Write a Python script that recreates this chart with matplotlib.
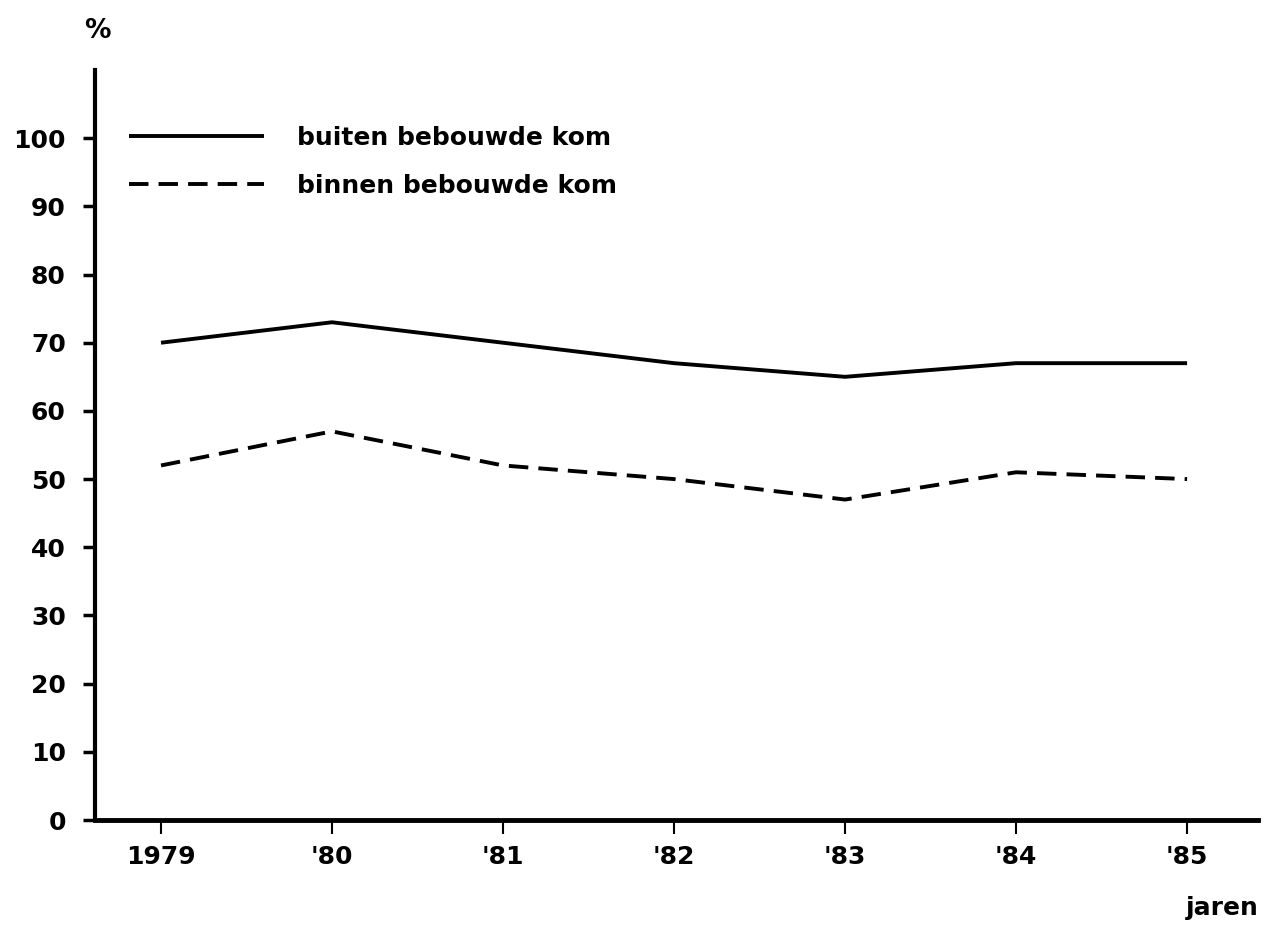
import matplotlib.pyplot as plt
import numpy as np

plt.rcParams['font.family'] = ['DejaVu Sans']

jaren = ['1979', "'80", "'81", "'82", "'83", "'84", "'85"]
buiten = [70, 73, 70, 67, 65, 67, 67]
binnen = [52, 57, 52, 50, 47, 51, 50]

x = np.arange(len(jaren))

fig = plt.figure(figsize=(12.75, 9.42), dpi=100)
ax = fig.add_axes([0.0745, 0.1295, 0.9122, 0.7962])

ax.plot(x, buiten, color='black', lw=2.8, solid_capstyle='butt',
        label='buiten bebouwde kom')
ax.plot(x, binnen, color='black', lw=2.8, dashes=(5, 2.6),
        label='binnen bebouwde kom')

ax.set_xlim(-0.386, 6.415)
ax.set_ylim(0, 110)
ax.set_xticks(x)
ax.set_xticklabels(jaren)
ax.set_yticks(np.arange(0, 101, 10))

for s in ['top', 'right']:
    ax.spines[s].set_visible(False)
ax.spines['left'].set_linewidth(3)
ax.spines['bottom'].set_linewidth(3.5)

ax.tick_params(axis='y', direction='out', length=9, width=2.5, pad=12,
               labelsize=18)
ax.tick_params(axis='x', direction='out', length=10, width=1.5, pad=8,
               labelsize=18)
for lab in ax.get_xticklabels() + ax.get_yticklabels():
    lab.set_fontweight('bold')

leg = ax.legend(loc='upper left', bbox_to_anchor=(0.01, 0.955), frameon=False,
                handlelength=5.4, handletextpad=1.3, labelspacing=0.95,
                prop={'size': 18, 'weight': 'bold'})

fig.text(0.066, 0.967, '%', fontsize=19, fontweight='bold', ha='left', va='center')
fig.text(0.987, 0.036, 'jaren', fontsize=18, fontweight='bold', ha='right', va='center')

fig.savefig('out.png', dpi=100)
